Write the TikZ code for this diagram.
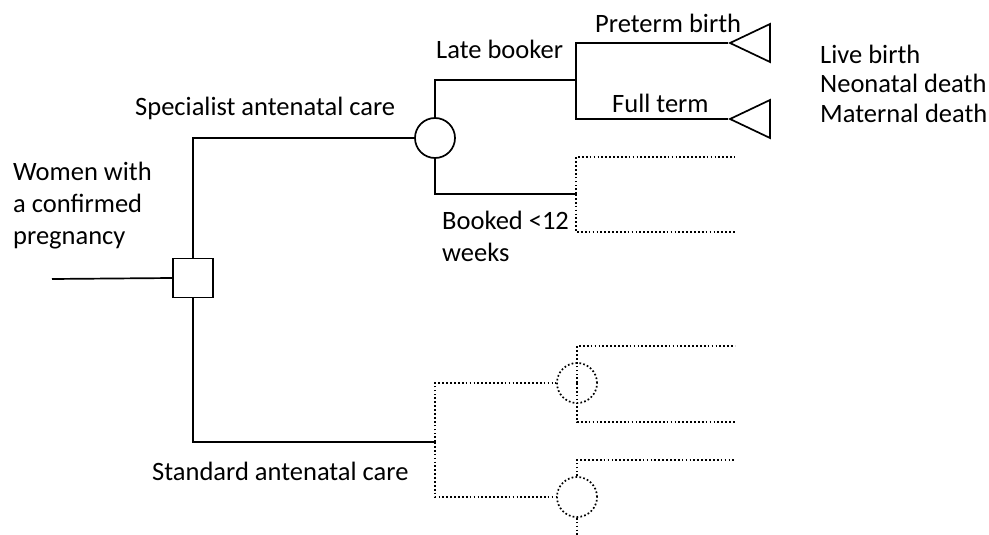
\documentclass[tikz,border=0pt]{standalone}
\usepackage{fontspec}
\setmainfont{Carlito}
\usetikzlibrary{shapes.geometric}
\begin{document}
\begin{tikzpicture}[x=1pt,y=-1pt,
  solidline/.style={line width=1.7pt},
  dotline/.style={line width=1.7pt, dash pattern=on 1.7pt off 2.2pt},
  decbox/.style={draw, solidline, rectangle, minimum width=40pt, minimum height=39pt, inner sep=0pt},
  chance/.style={draw, circle, minimum size=40pt, inner sep=0pt},
  term/.style={draw, solidline, isosceles triangle, shape border rotate=180, isosceles triangle stretches, minimum width=38pt, minimum height=40pt, inner sep=0pt},
  lbl/.style={anchor=base west, inner sep=0pt, font=\fontsize{26.5}{32}\selectfont, align=left},
  lblr/.style={anchor=base west, inner sep=0pt, font=\fontsize{26.5}{30}\selectfont, align=left}]
\useasboundingbox (0,0) rectangle (989,535);

% nodes
\node[decbox] (dec) at (193,278) {};
\node[chance, solidline] (ch1) at (435,138) {};
\node[chance, dotline] (ch2) at (577,383) {};
\node[chance, dotline] (ch3) at (577,497) {};
\node[term] (t1) at (758,43) {};
\node[term] (t2) at (758,119) {};

% coordinates
\coordinate (start) at (52,279);
\coordinate (j1) at (576,80);
\coordinate (j3) at (576,194);
\coordinate (j2) at (435,442);
\coordinate (e1) at (735,157);
\coordinate (e2) at (735,232);
\coordinate (e3) at (735,346);
\coordinate (e4) at (735,422);
\coordinate (e5) at (735,460);
\coordinate (bot) at (577,535);

% solid connectors
\draw[solidline] (start) -- (dec.west);
\draw[solidline] (dec.north) |- (ch1.west);
\draw[solidline] (dec.south) |- (j2);
\draw[solidline] (ch1.north) |- (j1);
\draw[solidline] (j1) |- (t1.apex);
\draw[solidline] (j1) |- (t2.apex);
\draw[solidline] (ch1.south) |- (j3);

% dotted connectors
\draw[dotline] (j3) -- (j3 |- e1) -- (e1);
\draw[dotline] (j3) -- (j3 |- e2) -- (e2);
\draw[dotline] (j2) |- (ch2.west);
\draw[dotline] (j2) |- (ch3.west);
\draw[dotline] (ch2.center) -- (ch2 |- e3) -- (e3);
\draw[dotline] (ch2.center) -- (ch2 |- e4) -- (e4);
\draw[dotline] (ch3.north) |- (e5);
\draw[dotline] (ch3.south) -- (bot);

% labels (base anchor of multi-line nodes = last line's baseline)
\node[lbl] (women) at (13,244) {Women with\\a confirmed\\pregnancy};
\node[lbl] (spec) at (135,115) {Specialist antenatal care};
\node[lbl] (stand) at (152,480) {Standard antenatal care};
\node[lbl] (late) at (436,59) {Late booker};
\node[lbl] (booked) at (442,261.5) {Booked <12\\weeks};
\node[lbl] (pre) at (595,33) {Preterm birth};
\node[lbl] (full) at (612,113) {Full term};
\node[lblr] (out) at (820,123) {Live birth\\Neonatal death\\Maternal death};
\end{tikzpicture}
\end{document}
